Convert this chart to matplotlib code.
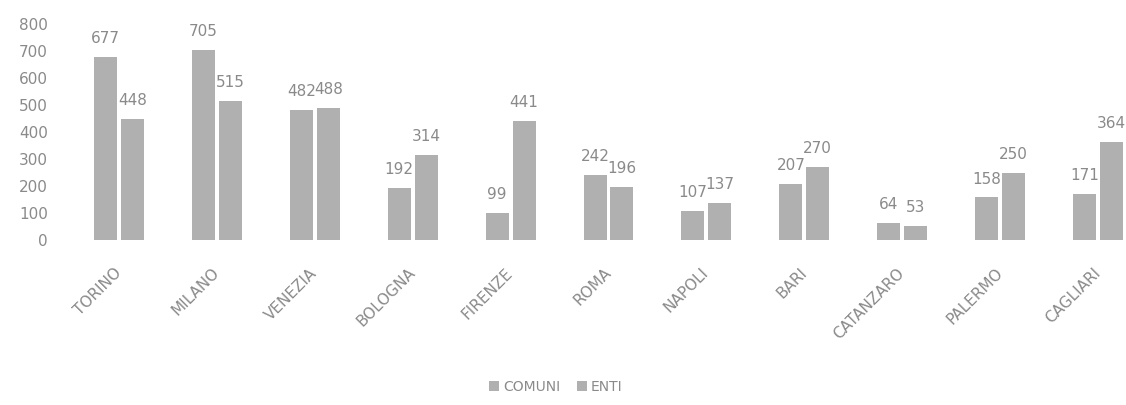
import numpy as np
import matplotlib.pyplot as plt

citta = ["TORINO", "MILANO", "VENEZIA", "BOLOGNA", "FIRENZE", "ROMA",
         "NAPOLI", "BARI", "CATANZARO", "PALERMO", "CAGLIARI"]
comuni = [677, 705, 482, 192, 99, 242, 107, 207, 64, 158, 171]
enti = [448, 515, 488, 314, 441, 196, 137, 270, 53, 250, 364]
yticks = [0, 100, 200, 300, 400, 500, 600, 700, 800]

grigio_testo = "#8a8a8a"
grigio_barre = "#b0b0b0"

fig = plt.figure(figsize=(11.26, 4.05), dpi=100)
# l'ultimo gruppo esce leggermente dal bordo destro
ax = fig.add_axes([70 / 1126, 165 / 405, 1077 / 1126, 216 / 405])

x = np.arange(len(citta))
w = 0.235
off = 0.1375
b1 = ax.bar(x - off, comuni, w, color=grigio_barre, label="COMUNI")
b2 = ax.bar(x + off, enti, w, color=grigio_barre, label="ENTI")

for bars in (b1, b2):
    for r in bars:
        ax.text(r.get_x() + r.get_width() / 2, r.get_height() + 40,
                f"{int(r.get_height())}", ha="center", va="bottom",
                fontsize=11, color=grigio_testo)

ax.set_xlim(-0.5, len(citta) - 0.5)
ax.set_ylim(0, 800)
ax.set_yticks(yticks)
ax.set_yticklabels([str(v) for v in yticks], fontsize=11, color=grigio_testo)
ax.set_xticks(x)
ax.set_xticklabels(citta, rotation=45, ha="right", va="center",
                   rotation_mode="anchor", fontsize=11, color=grigio_testo)
ax.tick_params(axis="both", length=0)
ax.tick_params(axis="x", pad=22)
ax.tick_params(axis="y", pad=16)
for s in ax.spines.values():
    s.set_visible(False)

fig.legend(handles=[b1, b2], labels=["COMUNI", "ENTI"], loc="center",
           bbox_to_anchor=(556 / 1126, 1 - 387 / 405), ncol=2, frameon=False,
           fontsize=10, labelcolor=grigio_testo, handlelength=0.7,
           handleheight=0.7, handletextpad=0.3, columnspacing=1.2)

fig.savefig("out.png", dpi=100)
